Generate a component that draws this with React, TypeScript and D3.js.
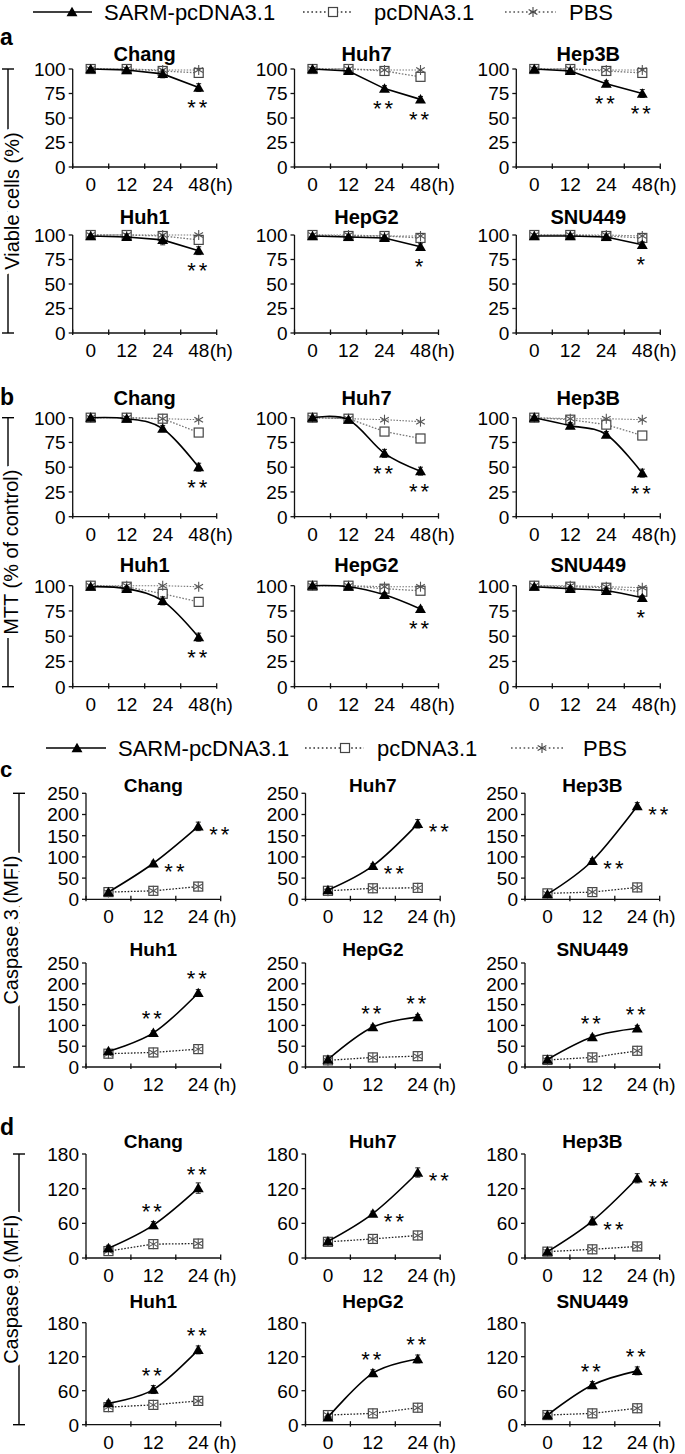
import React from "react";
import * as d3 from "d3";

const FONT = "'Liberation Sans', Arial, Helvetica, sans-serif";

const LEGEND_LABELS = ["SARM-pcDNA3.1", "pcDNA3.1", "PBS"];
const CELL_LINES = ["Chang", "Huh7", "Hep3B", "Huh1", "HepG2", "SNU449"];
const HOURS_4 = ["0", "12", "24", "48"];
const HOURS_3 = ["0", "12", "24"];
const TICKS_PCT = [0, 25, 50, 75, 100];
const TICKS_C3 = [0, 50, 100, 150, 200, 250];
const TICKS_C9 = [0, 60, 120, 180];

// Panel a: Viable cells (%)
const viableSarm = [[100, 99, 95, 81], [100, 98, 80, 69], [100, 98, 85, 75], [99, 98, 95, 84], [99, 98, 97, 88], [99, 99, 98, 90]];
const viableSarmErr = [[1, 2, 4, 4], [1, 2, 3, 3], [1, 2, 3, 4], [1, 3, 5, 4], [1, 2, 2, 3], [1, 1, 2, 3]];
const viablePc = [[100, 100, 98, 96], [100, 100, 98, 92], [100, 100, 98, 96], [100, 100, 99, 95], [100, 99, 99, 97], [100, 100, 99, 97]];
const viablePcErr = [[1, 1, 2, 3], [1, 1, 2, 3], [1, 1, 2, 2], [1, 1, 2, 3], [1, 1, 1, 2], [1, 1, 1, 2]];
const viablePbs = [[100, 100, 99, 99], [100, 100, 99, 99], [100, 100, 99, 99], [100, 100, 100, 100], [100, 100, 99, 99], [100, 100, 100, 99]];
const viableStars = [["", "", "", "**"], ["", "", "**", "**"], ["", "", "**", "**"], ["", "", "", "**"], ["", "", "", "*"], ["", "", "", "*"]];

// Panel b: MTT (% of control)
const mttSarm = [[100, 99, 89, 50], [100, 98, 64, 46], [100, 92, 83, 44], [99, 97, 85, 49], [100, 99, 91, 77], [99, 97, 95, 88]];
const mttSarmErr = [[1, 2, 3, 4], [1, 2, 4, 4], [1, 3, 3, 4], [1, 2, 4, 4], [1, 1, 2, 2], [1, 2, 2, 2]];
const mttPc = [[100, 100, 99, 85], [100, 99, 86, 79], [100, 98, 93, 82], [100, 99, 92, 84], [100, 100, 97, 95], [100, 99, 98, 94]];
const mttPcErr = [[1, 1, 2, 3], [1, 1, 2, 3], [1, 2, 3, 3], [1, 1, 4, 3], [1, 1, 2, 2], [1, 1, 2, 2]];
const mttPbs = [[100, 100, 99, 98], [100, 99, 98, 96], [100, 99, 99, 98], [100, 100, 100, 99], [100, 100, 99, 99], [100, 100, 99, 98]];
const mttStars = [["", "", "", "**"], ["", "", "**", "**"], ["", "", "", "**"], ["", "", "", "**"], ["", "", "", "**"], ["", "", "", "*"]];

// Panel c: Caspase 3 (MFI)
const c3Sarm = [[17, 85, 172], [22, 79, 178], [12, 91, 220], [38, 82, 178], [18, 96, 120], [18, 72, 93]];
const c3SarmErr = [[3, 5, 10], [3, 5, 10], [2, 5, 8], [3, 5, 8], [6, 5, 6], [4, 5, 7]];
const c3Pc = [[17, 20, 30], [20, 26, 27], [14, 17, 28], [32, 35, 43], [16, 23, 26], [17, 23, 39]];
const c3PcErr = [[2, 3, 3], [2, 3, 3], [2, 3, 3], [2, 3, 3], [2, 3, 3], [2, 3, 3]];
const c3Pbs = [[16, 20, 30], [19, 26, 27], [13, 17, 28], [31, 35, 43], [15, 23, 26], [16, 23, 39]];
const c3Stars = [["", "**", "**"], ["", "**", "**"], ["", "**", "**"], ["", "**", "**"], ["", "**", "**"], ["", "**", "**"]];

// Panel d: Caspase 9 (MFI)
const c9Sarm = [[17, 57, 121], [29, 77, 148], [11, 64, 138], [38, 62, 132], [13, 91, 116], [17, 70, 95]];
const c9SarmErr = [[5, 6, 9], [4, 4, 8], [3, 7, 8], [4, 7, 7], [3, 6, 7], [3, 6, 7]];
const c9Pc = [[12, 24, 25], [28, 33, 39], [11, 15, 20], [31, 35, 42], [17, 20, 30], [17, 20, 29]];
const c9PcErr = [[2, 3, 3], [2, 3, 3], [2, 3, 3], [2, 3, 3], [2, 3, 3], [2, 3, 3]];
const c9Pbs = [[12, 24, 25], [28, 33, 39], [11, 15, 20], [31, 35, 42], [17, 20, 30], [17, 20, 29]];
const c9Stars = [["", "**", "**"], ["", "**", "**"], ["", "**", "**"], ["", "**", "**"], ["", "**", "**"], ["", "**", "**"]];

const COLS_AB = [72.7, 294.5, 516.3];
const COLS_CD = [86, 305.5, 525];
const W_AB = 144;
const W_CD = 134.7;

const triPath = d3.symbol().type(d3.symbolTriangle).size(52)() as string;

function Tri({ x, y }: { x: number; y: number }) {
  return <path d={triPath} transform={`translate(${x},${y + 1})`} fill="#000" />;
}
function Sq({ x, y }: { x: number; y: number }) {
  return <rect x={x - 4.5} y={y - 4.5} width={9} height={9} fill="#fff" stroke="#444" strokeWidth={1.2} />;
}
function Ast({ x, y, color = "#555" }: { x: number; y: number; color?: string }) {
  const r = 5;
  return (
    <g stroke={color} strokeWidth={1.1}>
      <line x1={x} y1={y - r} x2={x} y2={y + r} />
      <line x1={x - r * 0.87} y1={y - r * 0.5} x2={x + r * 0.87} y2={y + r * 0.5} />
      <line x1={x - r * 0.87} y1={y + r * 0.5} x2={x + r * 0.87} y2={y - r * 0.5} />
    </g>
  );
}

type PanelProps = {
  x0: number; top: number; bottom: number; width: number;
  cats: string[]; max: number; ticks: number[];
  title: string; titleY: number; titleSize: number;
  sarm: number[]; sarmErr: number[]; pc: number[]; pcErr: number[]; pbs: number[];
  stars: string[]; starPos: string; smooth: boolean; tickFont: number;
  dotColor: string; unitGap: number; showPbs: boolean;
};

function Panel(p: PanelProps) {
  const x = d3.scaleBand<string>().domain(p.cats).range([p.x0, p.x0 + p.width]);
  const y = d3.scaleLinear().domain([0, p.max]).range([p.bottom, p.top]);
  const cx = (c: string) => (x(c) as number) + x.bandwidth() / 2;
  const ptsS = p.cats.map((c, i) => [cx(c), y(p.sarm[i])] as [number, number]);
  const ptsP = p.cats.map((c, i) => [cx(c), y(p.pc[i])] as [number, number]);
  const ptsB = p.cats.map((c, i) => [cx(c), y(p.pbs[i])] as [number, number]);
  const lineS = d3.line().curve(p.smooth ? d3.curveCardinal.tension(0) : d3.curveLinear)(ptsS) as string;
  const lineP = d3.line()(ptsP) as string;
  const lineB = d3.line()(ptsB) as string;
  const bounds = [...p.cats.map((c) => x(c) as number), p.x0 + p.width];
  const last = p.cats[p.cats.length - 1];
  const err = (xx: number, v: number, e: number, key: string, color: string) => (
    <g key={key} stroke={color} strokeWidth={1}>
      <line x1={xx} x2={xx} y1={y(v - e)} y2={y(v + e)} />
      <line x1={xx - 2.5} x2={xx + 2.5} y1={y(v + e)} y2={y(v + e)} />
      <line x1={xx - 2.5} x2={xx + 2.5} y1={y(v - e)} y2={y(v - e)} />
    </g>
  );
  return (
    <g>
      <text x={p.x0 + p.width / 2} y={p.titleY} textAnchor="middle" fontWeight="bold" fontSize={p.titleSize}>{p.title}</text>
      <g stroke="#111" strokeWidth={1.3}>
        <line x1={p.x0} x2={p.x0} y1={y(0)} y2={y(p.max)} />
        <line x1={p.x0} x2={p.x0 + p.width} y1={y(0)} y2={y(0)} />
        {p.ticks.map((t) => (
          <line key={"yt" + t} x1={p.x0 - 4} x2={p.x0} y1={y(t)} y2={y(t)} />
        ))}
        {bounds.map((b, i) => (
          <line key={"xt" + i} x1={b} x2={b} y1={y(0) - 3.5} y2={y(0) + 2} />
        ))}
      </g>
      {p.ticks.map((t) => (
        <text key={"yl" + t} x={p.x0 - 7} y={y(t)} dy="0.36em" textAnchor="end" fontSize={p.tickFont}>{t}</text>
      ))}
      {p.cats.map((c) => (
        <text key={"xl" + c} x={cx(c)} y={p.bottom + 24} textAnchor="middle" fontSize={p.tickFont}>{c}</text>
      ))}
      <text x={cx(last) + p.unitGap} y={p.bottom + 24} textAnchor="start" fontSize={p.tickFont}>(h)</text>
      {p.showPbs && <path d={lineB} fill="none" stroke="#777" strokeWidth={1.1} strokeDasharray="1.5,1.5" />}
      <path d={lineP} fill="none" stroke={p.dotColor} strokeWidth={1.3} strokeDasharray="1.6,1.6" />
      {ptsP.map(([px], i) => err(px, p.pc[i], p.pcErr[i], "pe" + i, "#555"))}
      {ptsP.map(([px, py], i) => <Sq key={"sq" + i} x={px} y={py} />)}
      {ptsB.map(([px, py], i) => <Ast key={"as" + i} x={px} y={py} color="#555" />)}
      <path d={lineS} fill="none" stroke="#000" strokeWidth={1.6} />
      {ptsS.map(([px], i) => err(px, p.sarm[i], p.sarmErr[i], "se" + i, "#222"))}
      {ptsS.map(([px, py], i) => <Tri key={"tr" + i} x={px} y={py} />)}
      {p.stars.map((s, i) => {
        if (!s) return null;
        const [px, py] = ptsS[i];
        let tx = px, ty = py, anchor = "middle";
        if (p.starPos === "below") { ty = py + 15 + 12.5; }
        else if (p.starPos === "right") { tx = px + 11; anchor = "start"; ty = py + 3 + 12.5; }
        else { ty = py - 19 + 12.5; }
        return (
          <text key={"st" + i} x={tx} y={ty} textAnchor={anchor} fontSize={22} letterSpacing={3}>{s}</text>
        );
      })}
    </g>
  );
}

function Legend({ y, lineX0, lineX1, triX, text1X, dot1X0, dot1X1, sqX, text2X, dot2X0, dot2X1, astX, text3X }: any) {
  return (
    <g>
      <line x1={lineX0} x2={lineX1} y1={y} y2={y} stroke="#000" strokeWidth={1.6} />
      <Tri x={triX} y={y} />
      <text x={text1X} y={y} dy="0.36em" fontSize={22}>{LEGEND_LABELS[0]}</text>
      <line x1={dot1X0} x2={dot1X1} y1={y} y2={y} stroke="#333" strokeWidth={1.4} strokeDasharray="1.6,2.6" />
      <Sq x={sqX} y={y} />
      <text x={text2X} y={y} dy="0.36em" fontSize={22}>{LEGEND_LABELS[1]}</text>
      <line x1={dot2X0} x2={dot2X1} y1={y} y2={y} stroke="#555" strokeWidth={1.4} strokeDasharray="1.6,2.6" />
      <Ast x={astX} y={y} color="#444" />
      <text x={text3X} y={y} dy="0.36em" fontSize={22}>{LEGEND_LABELS[2]}</text>
    </g>
  );
}

function Bracket({ x, tx, top, bottom, label }: { x: number; tx: number; top: number; bottom: number; label: string }) {
  const mid = (top + bottom) / 2;
  return (
    <g>
      <line x1={x} x2={x} y1={top} y2={bottom} stroke="#000" strokeWidth={1.4} />
      <line x1={x - 6} x2={x + 6} y1={top} y2={top} stroke="#000" strokeWidth={1.4} />
      <line x1={x - 6} x2={x + 6} y1={bottom} y2={bottom} stroke="#000" strokeWidth={1.4} />
      <text
        x={tx}
        y={mid}
        dy="0.3em"
        transform={`rotate(-90 ${tx} ${mid})`}
        textAnchor="middle"
        fontSize={20}
        stroke="#fff"
        strokeWidth={10}
        paintOrder="stroke"
        fill="#000"
      >
        {label}
      </text>
    </g>
  );
}

function Section({ cols, width, rows, titles, cats, max, ticks, sarm, sarmErr, pc, pcErr, pbs, stars, starPos, smooth, titleSize, tickFont, dotColor, unitGap, showPbs }: any) {
  const out: any[] = [];
  for (let r = 0; r < 2; r++) {
    for (let c = 0; c < 3; c++) {
      const k = r * 3 + c;
      out.push(
        <Panel
          key={k}
          x0={cols[c]}
          top={rows[r][0]}
          bottom={rows[r][1]}
          width={width}
          cats={cats}
          max={max}
          ticks={ticks}
          title={CELL_LINES[k]}
          titleY={titles[r]}
          titleSize={titleSize}
          sarm={sarm[k]}
          sarmErr={sarmErr[k]}
          pc={pc[k]}
          pcErr={pcErr[k]}
          pbs={pbs[k]}
          stars={stars[k]}
          starPos={starPos[k]}
          smooth={smooth}
          tickFont={tickFont}
          dotColor={dotColor}
          unitGap={unitGap}
          showPbs={showPbs}
        />
      );
    }
  }
  return <g>{out}</g>;
}

export default function App() {
  return (
    <svg
      width={685}
      height={1454}
      style={{ position: "absolute", left: 0, top: 0, display: "block" }}
      fontFamily={FONT}
    >
      <rect width={685} height={1454} fill="#fff" />
      <Legend y={12} lineX0={33} lineX1={92} triX={72} text1X={104} dot1X0={303} dot1X1={352} sqX={333} text2X={374} dot2X0={505} dot2X1={556} astX={533} text3X={569} />
      <Legend y={748} lineX0={46} lineX1={106} triX={77} text1X={118} dot1X0={305} dot1X1={364} sqX={345} text2X={377} dot2X0={511} dot2X1={565} astX={542} text3X={583} />

      <text x={0} y={45} fontSize={23} fontWeight="bold">a</text>
      <text x={0} y={405} fontSize={23} fontWeight="bold">b</text>
      <text x={0} y={777} fontSize={22} fontWeight="bold">c</text>
      <text x={0} y={1135} fontSize={23} fontWeight="bold">d</text>

      <Bracket x={8} tx={12.5} top={69} bottom={333} label="Viable cells (%)" />
      <Bracket x={8} tx={12.5} top={417.7} bottom={686.7} label="MTT (% of control)" />
      <Bracket x={19} tx={12.5} top={793.3} bottom={1067} label="Caspase 3 (MFI)" />
      <Bracket x={19} tx={12.5} top={1154} bottom={1424.7} label="Caspase 9 (MFI)" />

      <Section cols={COLS_AB} width={W_AB} rows={[[69, 167], [235, 333]]} titles={[61, 224]} cats={HOURS_4} max={100} ticks={TICKS_PCT}
        sarm={viableSarm} sarmErr={viableSarmErr} pc={viablePc} pcErr={viablePcErr} pbs={viablePbs} stars={viableStars}
        starPos={["below", "below", "below", "below", "below", "below"]} smooth={false} titleSize={20} tickFont={19} dotColor="#777" unitGap={11} showPbs={true} />
      <Section cols={COLS_AB} width={W_AB} rows={[[417.7, 516.7], [585.7, 686.7]]} titles={[405, 572]} cats={HOURS_4} max={100} ticks={TICKS_PCT}
        sarm={mttSarm} sarmErr={mttSarmErr} pc={mttPc} pcErr={mttPcErr} pbs={mttPbs} stars={mttStars}
        starPos={["below", "below", "below", "below", "below", "below"]} smooth={true} titleSize={20} tickFont={19} dotColor="#777" unitGap={11} showPbs={true} />
      <Section cols={COLS_CD} width={W_CD} rows={[[793.3, 899.3], [963, 1067]]} titles={[792, 956]} cats={HOURS_3} max={250} ticks={TICKS_C3}
        sarm={c3Sarm} sarmErr={c3SarmErr} pc={c3Pc} pcErr={c3PcErr} pbs={c3Pbs} stars={c3Stars}
        starPos={["right", "right", "right", "above", "above", "above"]} smooth={true} titleSize={19} tickFont={19} dotColor="#222" unitGap={15} showPbs={false} />
      <Section cols={COLS_CD} width={W_CD} rows={[[1154, 1258], [1322.7, 1424.7]]} titles={[1148, 1308]} cats={HOURS_3} max={180} ticks={TICKS_C9}
        sarm={c9Sarm} sarmErr={c9SarmErr} pc={c9Pc} pcErr={c9PcErr} pbs={c9Pbs} stars={c9Stars}
        starPos={["above", "right", "right", "above", "above", "above"]} smooth={true} titleSize={19} tickFont={19} dotColor="#222" unitGap={15} showPbs={false} />
    </svg>
  );
}
